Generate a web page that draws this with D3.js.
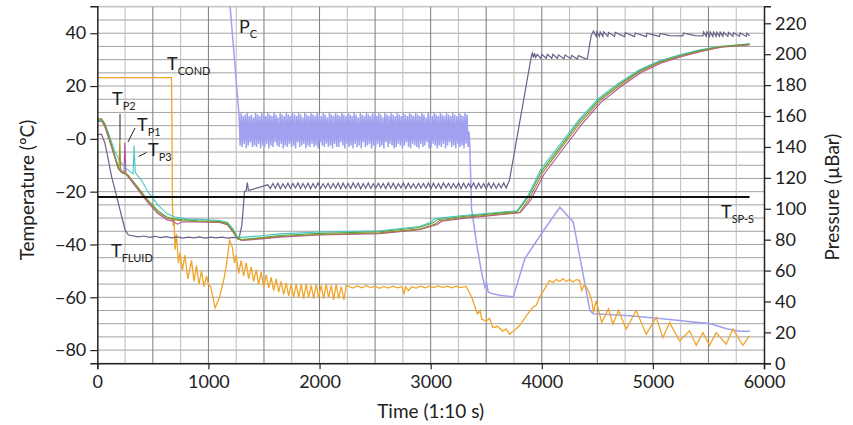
<!DOCTYPE html>
<html>
<head>
<meta charset="utf-8">
<script src="https://cdn.jsdelivr.net/npm/d3@7"></script>
<style>
  body { margin: 0; background: #fff; }
  text { font-family: Lato, "Open Sans", sans-serif; fill: #222; }
</style>
</head>
<body>
<div id="chart"></div>
<script>
// ---- data (time in 1:10 s units, temperature in degC, pressure in uBar) ----
const xTicks = [0, 1000, 2000, 3000, 4000, 5000, 6000];
const tTicks = [-80, -60, -40, -20, 0, 20, 40];
const pTicks = [0, 20, 40, 60, 80, 100, 120, 140, 160, 180, 200, 220];

const tCond = [[0,23.2],[668,23.2],[672,5],[676,-25],[683,-33],[690,-30],[700,-42],[712,-36],[730,-47],[745,-43],
  [765,-50],[788,-44],[815,-53],[848,-46],[870,-54],[893,-48],[915,-55],[938,-50],[960,-56],[983,-52],[1000,-55],
  [1020,-56],[1060,-64],[1100,-60],[1140,-53],[1165,-47],[1190,-38.4],[1215,-41],[1235,-47],[1250,-44],[1272,-51],
  [1295,-46],[1317,-52],[1340,-47],[1362,-53],[1385,-48.5],[1407,-54],[1430,-49.5],[1452,-55],[1475,-50.5],[1497,-56],
  [1520,-51.5],[1542,-56.5],[1565,-52.5],[1587,-57.5],[1610,-53],[1632,-58],[1655,-54],[1677,-59],[1700,-54.5],
  [1722,-59.5],[1745,-55],[1767,-60],[1790,-55],[1812,-60],[1835,-55],[1857,-60.5],[1880,-55],[1902,-60],[1925,-55.5],
  [1947,-60.5],[1970,-55],[1992,-60],[2015,-55.5],[2037,-60.5],[2060,-55],[2082,-60],[2105,-55.5],[2127,-61],[2150,-55],
  [2172,-60.5],[2195,-56],[2220,-61],[2240,-55.5],[2260,-55.8],[2300,-56.5],[2340,-55.7],[2380,-56.4],[2420,-55.6],
  [2460,-56.3],[2500,-55.8],[2540,-56.6],[2580,-55.9],[2620,-56.5],[2660,-55.8],[2700,-56.4],[2740,-56],[2760,-58.5],
  [2775,-56],[2800,-57.5],[2830,-56],[2870,-56.5],[2910,-55.8],[2950,-56.4],[2990,-55.8],[3030,-56.3],[3070,-55.7],
  [3110,-56.3],[3150,-55.8],[3190,-56.4],[3230,-55.8],[3270,-56.3],[3320,-55.9],[3370,-60],[3420,-66.3],[3445,-65],
  [3460,-68.3],[3500,-69],[3530,-68],[3560,-71.5],[3600,-71],[3650,-72.8],[3680,-72],[3710,-74],[3740,-73],[3800,-70.8],
  [3860,-67],[3920,-63.8],[3950,-63],[3980,-60],[4045,-55.5],[4070,-53.6],[4100,-54.5],[4130,-53.2],[4160,-54],
  [4190,-53],[4220,-54],[4250,-53.2],[4280,-54.2],[4310,-53.3],[4340,-53.6],[4360,-57.4],[4380,-55.5],[4400,-56],
  [4430,-58.6],[4450,-61.3],[4465,-65.8],[4490,-61.3],[4540,-69.5],[4600,-64.4],[4640,-70.2],[4690,-65],[4760,-72],
  [4850,-65],[4940,-74],[5030,-67.6],[5090,-75.3],[5150,-69.5],[5240,-76.5],[5330,-72.7],[5390,-78.2],[5450,-73.4],
  [5510,-78.2],[5570,-73.4],[5660,-77.8],[5720,-72],[5810,-78.2],[5870,-74.6]];

const pcHead = [[1160,262],[1193,233],[1276,160]];
// fast on/off cycling of P_C, sampled evenly between pcOscStart and pcOscEnd
const pcOscStart = 1276, pcOscEnd = 3337;
const pcOsc = [
  161,141,162,140,160,142,161,139,162,141,160,143,161,140,159,141,
  162,140,161,142,160,139,162,141,161,140,160,142,162,139,161,141,
  160,140,162,143,161,141,159,140,162,142,161,139,160,141,162,140,
  161,142,160,140,162,141,161,139,160,143,162,140,161,141,159,142,
  162,139,161,141,160,140,162,142,161,140,160,141,162,139,161,143,
  160,141,162,140,161,142,159,140,162,141,161,139,160,142,162,140,
  161,140,160,143,162,141,161,139,160,142,162,140,161,141,160,139,
  162,142,161,140,159,141,162,139,161,143,160,140,162,141,161,142,
  160,139,162,141,161,140,160,142,162,140,161,141,159,139,162,143,
  161,140,160,142,162,141,161,139,160,140,162,142,161,141,160,139,
  162,141,161,143,160,140,162,139,161,142,160,141,162,140,161,139,
  160,142,162,140,161,141,159,143,162,139,161,140,160,142,162,141,
  161,139,160,141,162,140,161,142,160,139,162,141,161,143,160,140,
  162,141,161,139,160,142,162,140,161,141,160,139,162,142,161,140];
const pcTail = [[3345,150],[3353,140],[3368,100],[3413,77.6],[3458,59],[3488,49.4],[3503,52.6],[3518,46],[3562,45],
  [3623,44],[3743,43],[3848,67.8],[3998,84],[4163,101],[4283,91.5],[4433,34.3],[4463,32],[4763,31],[5063,29],
  [5363,26.7],[5513,25.7],[5663,22.4],[5783,20.7],[5873,20.7]];

const fluidHead = [[0,1.7],[38,1.7],[68,-1.5],[95,-7],[128,-14.2],[160,-19.4],[190,-24.4],[220,-29.5],[250,-34.5],
  [280,-36.4],[370,-37.1],[420,-36.8],[470,-37.3],[520,-36.9],[570,-37.4],[620,-37],[670,-37.5],[720,-37.1],
  [770,-37.6],[820,-37.2],[870,-37.5],[920,-37.1],[970,-37.6],[1020,-37.2],[1070,-37.5],[1120,-37.2],[1170,-37.6],
  [1220,-37.3],[1276,-37.5],[1300,-33],[1312,-27],[1325,-20],[1340,-19.6],[1350,-16.6],[1360,-19.4],[1373,-19.4]];
// small regular sawtooth, sampled evenly between fluidSawStart and fluidSawEnd
const fluidSawStart = 1535, fluidSawEnd = 3680;
const fluidSaw = [
  -17.4,-18.8,-16.9,-18.7,-16.8,-18.9,-17.0,-18.7,-16.8,-18.8,-16.9,-18.6,-16.7,-18.8,-16.9,-18.7,
  -16.8,-18.9,-16.9,-18.7,-16.7,-18.8,-17.0,-18.6,-16.8,-18.8,-16.9,-18.7,-16.7,-18.9,-16.8,-18.7,
  -16.9,-18.8,-16.7,-18.6,-16.8,-18.9,-16.9,-18.7,-16.7,-18.8,-17.0,-18.7,-16.8,-18.6,-16.9,-18.8,
  -16.7,-18.7,-16.8,-18.9,-16.9,-18.6,-16.7,-18.8,-16.8,-18.7,-17.0,-18.8,-16.8,-18.6,-16.9,-18.7,
  -16.7,-18.9,-16.8,-18.7,-16.9,-18.8,-16.7,-18.6,-16.8,-18.8,-16.9,-18.7,-16.7,-18.9,-16.8,-18.7,
  -16.9,-18.6,-16.7,-18.8,-16.8,-18.7,-16.9,-18.9,-16.7,-18.7,-16.8,-18.8,-16.9,-18.6,-16.7,-18.6];
const fluidTail = [[3710,-15.5],[3905,31],[3915,32.5],[3925,30.8],[3935,32.5],[3945,30.8],[3960,32],[3990,30.5],
  [4000,32],[4040,30.5],[4050,32],[4090,30.5],[4100,32],[4140,30.5],[4150,31.8],[4200,30.3],[4210,31.8],[4260,30.3],
  [4270,31.6],[4320,30.2],[4330,31.5],[4400,30.2],[4410,30.3],[4445,39.2],[4466,40.8],[4490,38.8],[4496,40.6],
  [4520,38.8],[4526,40.5],[4550,38.8],[4556,40.5],[4595,38.8],[4601,40.3],[4655,38.8],[4661,40.3],[4745,38.7],
  [4751,40.2],[4835,38.7],[4841,40.1],[4940,38.7],[4946,40],[5060,38.8],[5066,39.9],[5150,39.1],[5270,39],[5276,40],
  [5380,39.1],[5450,39],[5456,40.5],[5480,38.8],[5486,40.5],[5510,38.8],[5516,40.5],[5540,38.8],[5546,40.5],
  [5570,38.8],[5576,40.4],[5600,38.8],[5606,40.4],[5630,38.8],[5636,40.3],[5675,38.8],[5681,40.3],[5720,38.8],
  [5726,40.2],[5780,38.8],[5786,40.1],[5840,38.8],[5846,40],[5870,39]];

const tP1 = [[0,6.6],[40,6.6],[68,4.6],[112,-1],[158,-7.2],[187,-11.2],[218,-12.8],[240,-13.2],[248,-1.5],[257,-13.3],
  [275,-14.2],[365,-19.2],[455,-24.2],[545,-28.3],[625,-30.6],[680,-31.2],[720,-32.3],[760,-31.5],[900,-31.5],
  [1000,-31.6],[1100,-31.7],[1170,-32.5],[1220,-35.2],[1260,-37.8],[1300,-38.5],[1500,-37.8],[1640,-37.2],[2000,-36.4],
  [2540,-35.9],[2900,-34.4],[3060,-32.4],[3100,-31.2],[3290,-30.1],[3805,-28],[3900,-23.2],[4020,-13.4],[4175,-4.8],
  [4355,5.3],[4535,13.9],[4715,19.9],[4895,25.1],[5075,28.7],[5255,31.1],[5435,33.1],[5615,34.7],[5870,35.6]];
const tP2 = [[0,7.6],[40,7.6],[68,5.6],[112,-0.2],[158,-6.4],[187,-10.2],[196,-10.8],[203,-0.4],[210,-11.2],[218,-12.2],
  [275,-13.6],[365,-18.6],[455,-23.6],[545,-27.8],[625,-30],[680,-30.6],[760,-31],[900,-31.3],[1000,-31.4],[1100,-31.5],
  [1170,-32.3],[1220,-35],[1260,-37.8],[1300,-38.3],[1500,-37.6],[1640,-37],[2000,-36.2],[2540,-35.6],[2900,-34.2],
  [3040,-32.3],[3080,-31],[3290,-29.8],[3800,-27.8],[3890,-22.6],[4010,-12.6],[4165,-4],[4345,6],[4525,14.5],
  [4705,20.4],[4885,25.5],[5065,29],[5245,31.3],[5425,33.3],[5605,34.8],[5870,35.8]];
const tP3 = [[0,6.8],[40,6.8],[68,5.8],[112,0.8],[158,-4.8],[200,-8.2],[250,-10.8],[300,-12.6],[322,-13.2],[331,-2.5],
  [342,-12.8],[400,-15.8],[455,-20],[545,-25],[625,-28.3],[700,-29.6],[800,-30.3],[1000,-30.7],[1100,-30.9],[1170,-31.6],
  [1220,-34],[1260,-37],[1300,-37.3],[1500,-36.6],[1640,-36],[2000,-35.3],[2540,-34.8],[2900,-33.2],[3000,-31.6],
  [3040,-30.2],[3290,-29],[3780,-27.2],[3875,-21.5],[3995,-11.2],[4155,-2.6],[4335,7.3],[4515,15.5],[4695,21.2],
  [4875,26.1],[5055,29.5],[5235,31.7],[5415,33.6],[5595,35],[5870,36]];
const tP4 = [[0,7.2],[40,7.2],[68,5.3],[112,-0.4],[158,-6.8],[187,-10.6],[218,-12.5],[275,-13.8],[365,-18.3],[455,-23.2],
  [545,-27.2],[625,-29.6],[680,-30.2],[760,-30.6],[900,-31],[1000,-31.1],[1100,-31.3],[1170,-32],[1220,-34.6],
  [1260,-37.5],[1300,-38.1],[1500,-37.3],[1640,-36.6],[2000,-35.8],[2540,-35.2],[2900,-33.6],[3020,-31.8],[3060,-30.6],
  [3290,-29.4],[3780,-27.5],[3880,-22],[4000,-12],[4160,-3.3],[4340,6.7],[4520,15],[4700,20.8],[4880,25.8],[5060,29.2],
  [5240,31.5],[5420,33.4],[5600,34.9],[5870,35.9]];

const tSps = [[0,-22],[5870,-22]];

// ---- layout ----
const width = 853, height = 425;
const plot = { left: 97.3, right: 764, top: 6.3, bottom: 363.3 };

const svg = d3.select("#chart").append("svg")
  .attr("width", width)
  .attr("height", height);

const x = d3.scaleLinear().domain([0, 6000]).range([plot.left, plot.right]);
const yT = d3.scaleLinear().domain([-85, 50.2]).range([plot.bottom, plot.top]);
const yP = d3.scaleLinear().domain([0, 231]).range([plot.bottom, plot.top]);

// grid
const grid = svg.append("g");
grid.selectAll(".hgrid")
  .data(d3.range(-85, 51, 5))
  .enter().append("line")
  .attr("x1", plot.left).attr("x2", plot.right)
  .attr("y1", d => yT(d)).attr("y2", d => yT(d))
  .attr("stroke", "#a2a2a2").attr("stroke-width", 1);
grid.selectAll(".vgrid")
  .data(d3.range(250, 6000, 250))
  .enter().append("line")
  .attr("y1", plot.top).attr("y2", plot.bottom)
  .attr("x1", d => x(d)).attr("x2", d => x(d))
  .attr("stroke", d => d % 500 === 0 ? "#7c7c7c" : "#bdbdbd").attr("stroke-width", 1);
grid.append("line")
  .attr("x1", plot.left).attr("x2", plot.right)
  .attr("y1", plot.top).attr("y2", plot.top)
  .attr("stroke", "#c8c8c8");

svg.append("clipPath").attr("id", "clip")
  .append("rect")
  .attr("x", plot.left).attr("y", plot.top)
  .attr("width", plot.right - plot.left).attr("height", plot.bottom - plot.top);

const lines = svg.append("g").attr("clip-path", "url(#clip)");
const lineT = d3.line().x(d => x(d[0])).y(d => yT(d[1]));
const lineP = d3.line().x(d => x(d[0])).y(d => yP(d[1]));

function sampled(vals, start, end) {
  const step = (end - start) / (vals.length - 1);
  return vals.map((v, i) => [start + i * step, v]);
}

const pcData = pcHead.concat(sampled(pcOsc, pcOscStart, pcOscEnd), pcTail);
const fluidData = fluidHead.concat(sampled(fluidSaw, fluidSawStart, fluidSawEnd), fluidTail);

lines.append("path").datum(pcData)
  .attr("d", lineP).attr("fill", "none")
  .attr("stroke", "#a0a0f0").attr("stroke-width", 1.5);

lines.append("path").datum(tCond)
  .attr("d", lineT).attr("fill", "none")
  .attr("stroke", "#f0a52a").attr("stroke-width", 1.3);

lines.append("path").datum(fluidData)
  .attr("d", lineT).attr("fill", "none")
  .attr("stroke", "#6b6188").attr("stroke-width", 1.2);

const probes = [
  { data: tP1, color: "#b4509c" },
  { data: tP3, color: "#48c6c6" },
  { data: tP4, color: "#4ea64e" },
  { data: tP2, color: "#9a8a2e" }
];
lines.selectAll(".probe")
  .data(probes)
  .enter().append("path")
  .attr("class", "probe")
  .attr("d", d => lineT(d.data))
  .attr("fill", "none")
  .attr("stroke", d => d.color)
  .attr("stroke-width", 1.1);

lines.append("path").datum(tSps)
  .attr("d", lineT).attr("fill", "none")
  .attr("stroke", "#111").attr("stroke-width", 2);

// axes
const fmtT = d => d === 0 ? "\u22120" : d < 0 ? "\u2212" + (-d) : String(d);

const xAxis = svg.append("g")
  .attr("transform", `translate(0,${plot.bottom})`)
  .call(d3.axisBottom(x).tickValues(xTicks).tickFormat(d3.format("d")).tickSize(6).tickPadding(6));
const leftAxis = svg.append("g")
  .attr("transform", `translate(${plot.left},0)`)
  .call(d3.axisLeft(yT).tickValues(tTicks).tickFormat(fmtT).tickSize(7).tickPadding(4));
const rightAxis = svg.append("g")
  .attr("transform", `translate(${plot.right},0)`)
  .call(d3.axisRight(yP).tickValues(pTicks).tickSize(7).tickPadding(4));

[xAxis, leftAxis, rightAxis].forEach(a => {
  a.selectAll("path.domain").attr("stroke", "#222").attr("stroke-width", 1.5);
  a.selectAll(".tick line").attr("stroke", "#222").attr("stroke-width", 1.2);
  a.selectAll(".tick text").attr("font-size", 18).attr("fill", "#222")
    .style("font-family", "Lato, 'Open Sans', sans-serif");
});

// axis titles
svg.append("text")
  .attr("x", (plot.left + plot.right) / 2).attr("y", 418)
  .attr("text-anchor", "middle").attr("font-size", 19)
  .text("Time (1:10 s)");
svg.append("text")
  .attr("transform", "translate(34,190) rotate(-90)")
  .attr("text-anchor", "middle").attr("font-size", 19)
  .text("Temperature (ºC)");
svg.append("text")
  .attr("transform", "translate(839,197) rotate(-90)")
  .attr("text-anchor", "middle").attr("font-size", 19)
  .text("Pressure (\u00b5Bar)");

// series labels
const labels = [
  { main: "P", sub: "C", x: 239, y: 33 },
  { main: "T", sub: "COND", x: 167, y: 70 },
  { main: "T", sub: "P2", x: 112, y: 105 },
  { main: "T", sub: "P1", x: 137, y: 131 },
  { main: "T", sub: "P3", x: 148, y: 156 },
  { main: "T", sub: "FLUID", x: 111, y: 257 },
  { main: "T", sub: "SP-S", x: 721, y: 218 }
];
labels.forEach(l => {
  const t = svg.append("text").attr("x", l.x).attr("y", l.y).attr("font-size", 18);
  t.append("tspan").text(l.main);
  t.append("tspan").attr("font-size", 11).attr("dy", 5).text(l.sub);
});

const leaders = [
  [120, 114, 120, 140],
  [135, 128, 128, 142],
  [146.5, 152.5, 138.5, 156.5]
];
svg.selectAll(".leader")
  .data(leaders)
  .enter().append("line")
  .attr("x1", d => d[0]).attr("y1", d => d[1])
  .attr("x2", d => d[2]).attr("y2", d => d[3])
  .attr("stroke", "#222").attr("stroke-width", 1);
</script>
</body>
</html>
